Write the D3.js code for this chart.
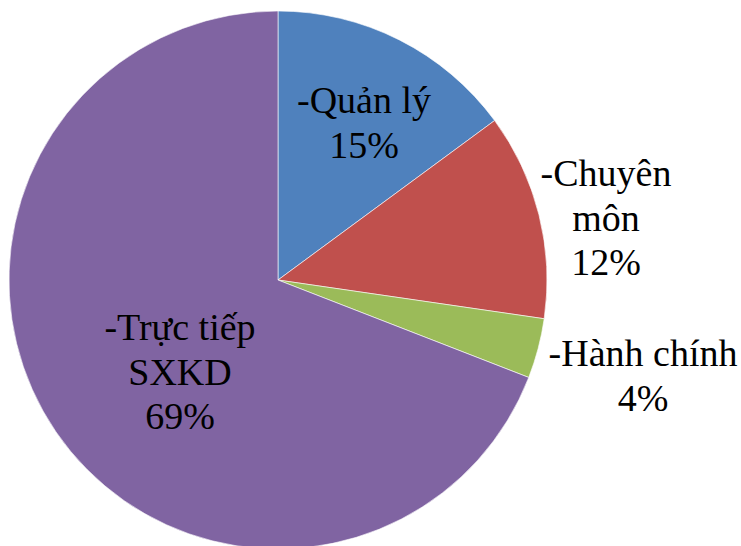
<!DOCTYPE html>
<html>
<head>
<meta charset="utf-8">
<script src="https://cdn.jsdelivr.net/npm/d3@7"></script>
</head>
<body style="margin:0">
<svg id="chart" width="741" height="546"></svg>
<script>
// ---- data ----
const categories = ["-Quản lý", "-Chuyên môn", "-Hành chính", "-Trực tiếp SXKD"];
const labelLines = [["-Quản lý"], ["-Chuyên", "môn"], ["-Hành chính"], ["-Trực tiếp", "SXKD"]];
const values = [14.9, 12.4, 3.6, 69.1];
const colors = ["#4F81BD", "#C0504D", "#9BBB59", "#8064A2"];

// ---- layout ----
const cx = 278, cy = 280, R = 269;
const fontSize = 38, lineH = 44.5;
// label anchors: [x centre, first baseline], relative to pie centre
const labelAnchor = [[86, -167], [328, -94], [365, 86], [-98, 60]];

const svg = d3.select("#chart");
const g = svg.append("g").attr("transform", `translate(${cx},${cy})`);

const total = d3.sum(values);
const pie = d3.pie().sort(null).value(d => d)(values);
const arc = d3.arc().innerRadius(0).outerRadius(R);

g.selectAll("path")
  .data(pie)
  .join("path")
  .attr("d", arc)
  .attr("fill", (d, i) => colors[i])
  .attr("stroke", "#ffffff")
  .attr("stroke-width", 0.6);

const pct = d3.format(".0%");
const lineData = [];
pie.forEach((d, i) => {
  const lines = labelLines[i].concat([pct(d.value / total)]);
  lines.forEach((s, k) => lineData.push({ s, x: labelAnchor[i][0], y: labelAnchor[i][1] + k * lineH }));
});

const fontStack = 'Tinos, "Liberation Serif", "Times New Roman", "DejaVu Serif"';
g.selectAll("text")
  .data(lineData)
  .join("text")
  .attr("x", d => d.x)
  .attr("y", d => d.y)
  .attr("text-anchor", "middle")
  .attr("font-family", fontStack)
  .attr("font-size", fontSize)
  .style("font-family", fontStack)
  .style("font-size", fontSize + "px")
  .style("fill", "#000")
  .text(d => d.s);
</script>
</body>
</html>
